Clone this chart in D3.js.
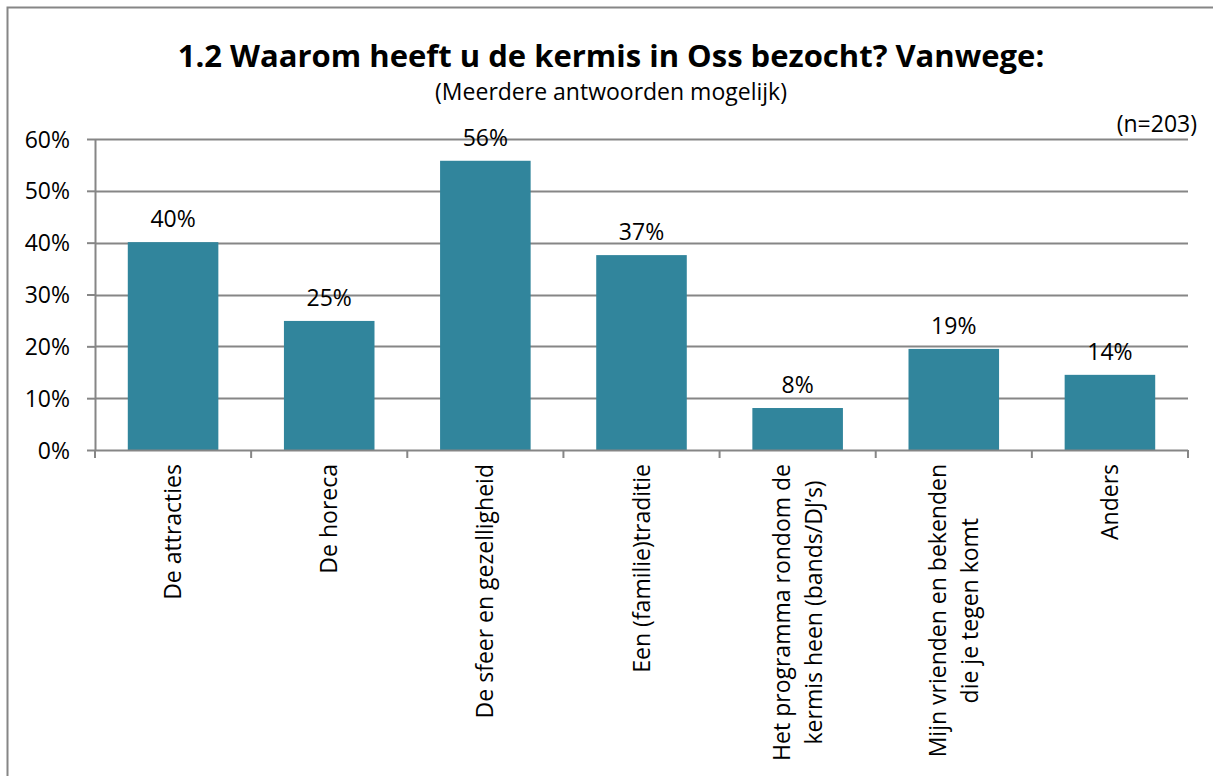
<!DOCTYPE html>
<html>
<head>
<meta charset="utf-8">
<script src="https://cdn.jsdelivr.net/npm/d3@7"></script>
<style>
  body { margin: 0; background: #fff; }
  svg { display: block; font-family: "Open Sans", sans-serif; }
</style>
</head>
<body>
<svg width="1213" height="776"></svg>
<script>
const categories = [
    ["De attracties"],
    ["De horeca"],
    ["De sfeer en gezelligheid"],
    ["Een (familie)traditie"],
    ["Het programma rondom de", "kermis heen (bands/DJ\u2019s)"],
    ["Mijn vrienden en bekenden", "die je tegen komt"],
    ["Anders"]
];
const values = [40.1, 24.9, 55.8, 37.6, 8.1, 19.5, 14.5];
const valueLabels = ["40%", "25%", "56%", "37%", "8%", "19%", "14%"];
const yTicks = [0, 10, 20, 30, 40, 50, 60];

const title = "1.2 Waarom heeft u de kermis in Oss bezocht? Vanwege:";
const subtitle = "(Meerdere antwoorden mogelijk)";
const nLabel = "(n=203)";

const svg = d3.select("svg");
const margin = {left: 95, right: 1188, top: 139, bottom: 450};
const gridColor = "#868686";
const barColor = "#31859c";
const fs = "23px";

// outer chart border (runs off the picture right and bottom)
svg.append("rect")
    .attr("x", 7.5).attr("y", 7.5)
    .attr("width", 1400).attr("height", 1000)
    .attr("fill", "none")
    .attr("stroke", gridColor)
    .attr("stroke-width", 2);

var x = d3.scaleBand()
    .domain(d3.range(categories.length))
    .range([margin.left, margin.right])
    .paddingInner(0.42)
    .paddingOuter(0.21);

var y = d3.scaleLinear()
    .domain([0, 60])
    .range([margin.bottom, margin.top]);

// gridlines
svg.append("g")
    .selectAll("line")
    .data(yTicks.slice(1))
    .enter()
    .append("line")
    .attr("x1", margin.left).attr("x2", margin.right)
    .attr("y1", d => Math.round(y(d)) + 0.5)
    .attr("y2", d => Math.round(y(d)) + 0.5)
    .attr("stroke", gridColor)
    .attr("stroke-width", 2);

// y axis
var yAxis = svg.append("g")
    .attr("transform", "translate(" + margin.left + ",0)")
    .call(d3.axisLeft(y).tickValues(yTicks).tickSize(8).tickSizeOuter(0).tickFormat(d => d + "%"));
yAxis.select(".domain").attr("stroke", gridColor).attr("stroke-width", 2);
yAxis.selectAll(".tick line").attr("stroke", gridColor).attr("stroke-width", 2);
yAxis.selectAll(".tick text")
    .attr("x", -25)
    .attr("dy", "0.35em")
    .attr("fill", "#000")
    .style("font-family", "Open Sans")
    .style("font-size", fs);

// bars
svg.append("g")
    .selectAll("rect")
    .data(values)
    .enter()
    .append("rect")
    .attr("x", (d, i) => x(i))
    .attr("width", x.bandwidth())
    .attr("y", d => y(d))
    .attr("height", d => y(0) - y(d))
    .attr("fill", barColor);

// x axis: baseline + ticks between categories
var bounds = d3.range(categories.length + 1).map(i => margin.left + i * (margin.right - margin.left) / categories.length);
svg.append("line")
    .attr("x1", margin.left).attr("x2", margin.right)
    .attr("y1", margin.bottom + 0.5).attr("y2", margin.bottom + 0.5)
    .attr("stroke", gridColor).attr("stroke-width", 2);
svg.append("g")
    .selectAll("line")
    .data(bounds)
    .enter()
    .append("line")
    .attr("x1", d => d).attr("x2", d => d)
    .attr("y1", margin.bottom).attr("y2", margin.bottom + 8)
    .attr("stroke", gridColor).attr("stroke-width", 2);

// value labels
svg.append("g")
    .selectAll("text")
    .data(values)
    .enter()
    .append("text")
    .attr("x", (d, i) => x(i) + x.bandwidth() / 2)
    .attr("y", d => y(d) - 15)
    .attr("text-anchor", "middle")
    .style("font-size", fs)
    .text((d, i) => valueLabels[i]);

// category labels, rotated, block top-aligned under the axis
var lineH = 32;
categories.forEach(function(lines, i) {
    var cx = x(i) + x.bandwidth() / 2;
    var g = svg.append("g")
        .attr("transform", "translate(" + cx + "," + (margin.bottom + 14) + ") rotate(-90)");
    var texts = g.selectAll("text")
        .data(lines)
        .enter()
        .append("text")
        .attr("text-anchor", "middle")
        .style("font-size", fs)
        .text(d => d);
    var maxW = d3.max(texts.nodes(), n => n.getComputedTextLength());
    texts.attr("x", -maxW / 2)
        .attr("y", (d, j) => (j - (lines.length - 1) / 2) * lineH + 8);
});

// titles
svg.append("text")
    .attr("x", 611).attr("y", 67)
    .attr("text-anchor", "middle")
    .style("font-size", "31px")
    .style("font-weight", "bold")
    .text(title);
svg.append("text")
    .attr("x", 611).attr("y", 100)
    .attr("text-anchor", "middle")
    .style("font-size", "23px")
    .text(subtitle);
svg.append("text")
    .attr("x", 1197).attr("y", 132)
    .attr("text-anchor", "end")
    .style("font-size", "23px")
    .text(nLabel);
</script>
</body>
</html>
